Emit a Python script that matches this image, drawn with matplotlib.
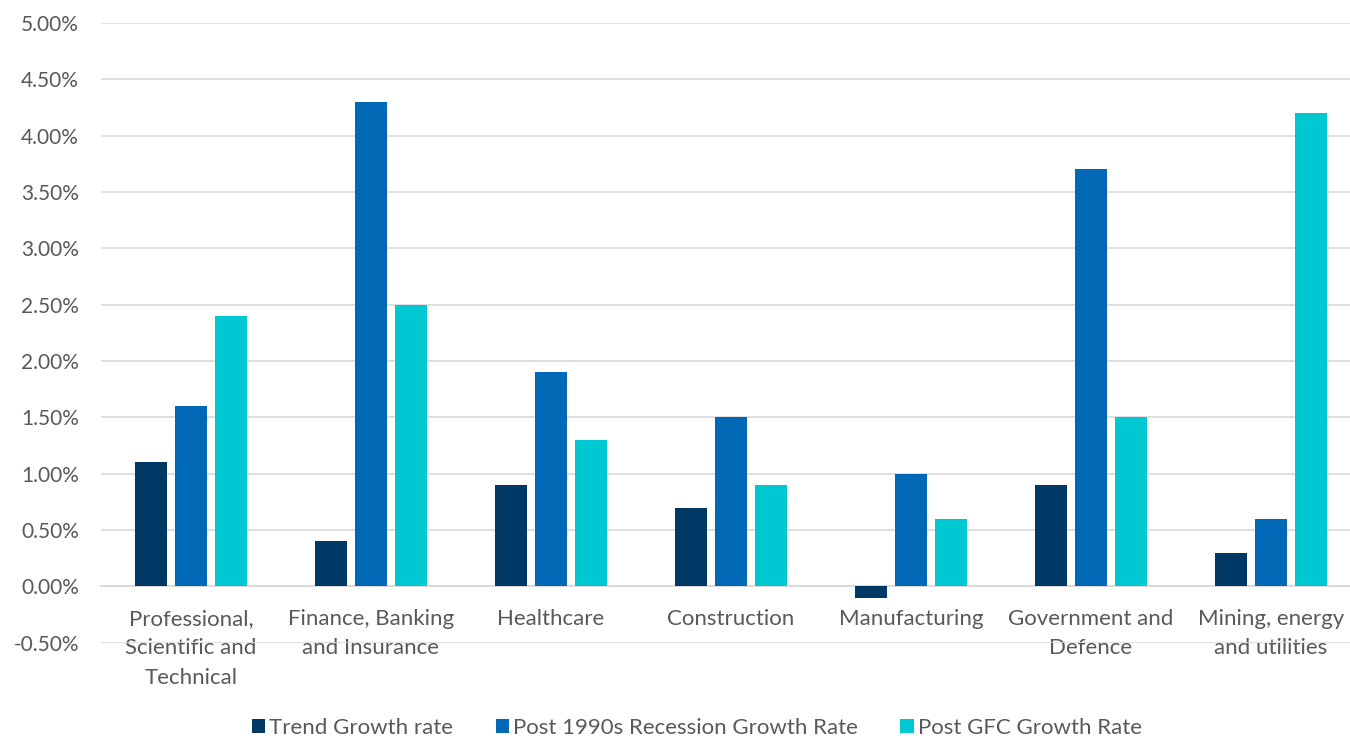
import numpy as np
import matplotlib.pyplot as plt
from matplotlib.ticker import FuncFormatter

# industry groups and growth rates (%)
categories = ["Professional,\nScientific and\nTechnical", "Finance, Banking\nand Insurance",
              "Healthcare", "Construction", "Manufacturing",
              "Government and\nDefence", "Mining, energy\nand utilities"]
trend = [1.1, 0.4, 0.9, 0.7, -0.1, 0.9, 0.3]
post_1990s = [1.6, 4.3, 1.9, 1.5, 1.0, 3.7, 0.6]
post_gfc = [2.4, 2.5, 1.3, 0.9, 0.6, 1.5, 4.2]
series_names = ["Trend Growth rate", "Post 1990s Recession Growth Rate", "Post GFC Growth Rate"]

colors = ["#003865", "#0068b4", "#00c8d2"]
txt = "#595959"

plt.rcParams['font.family'] = ['Lato', 'DejaVu Sans']

fig = plt.figure(figsize=(13.5, 7.38), dpi=100)
ax = fig.add_axes([0.0748, 0.129, 0.9333, 0.840])

x = np.arange(len(categories))
w = 0.18
step = 0.222
for k, vals in enumerate([trend, post_1990s, post_gfc]):
    ax.bar(x + (k - 1) * step, vals, width=w, color=colors[k], label=series_names[k], zorder=3)

ax.set_xlim(-0.5, len(categories) - 0.5)
ax.set_ylim(-0.5, 5.0)
ax.set_yticks(np.arange(-0.5, 5.01, 0.5))
ax.yaxis.set_major_formatter(FuncFormatter(lambda v, p: "%.2f%%" % v))
ax.grid(axis='y', color='#d9d9d9', linewidth=1.2, zorder=0)

for s in ['top', 'right', 'left']:
    ax.spines[s].set_visible(False)
ax.spines['bottom'].set_position(('data', 0))
ax.spines['bottom'].set_color('#d9d9d9')
ax.spines['bottom'].set_linewidth(1.2)

ax.set_xticks(x)
ax.set_xticklabels(categories, fontsize=16, color=txt, linespacing=1.6, va='top')
ax.tick_params(axis='x', length=0, pad=16)
ax.tick_params(axis='y', length=0, labelsize=15, labelcolor=txt, pad=16)

ax.legend(loc='center', bbox_to_anchor=(0.473, -0.137), ncol=3, frameon=False,
          fontsize=16, labelcolor=txt, handlelength=0.6, handleheight=0.6,
          handletextpad=0.2, columnspacing=1.9)

fig.savefig("out.png", dpi=100)
